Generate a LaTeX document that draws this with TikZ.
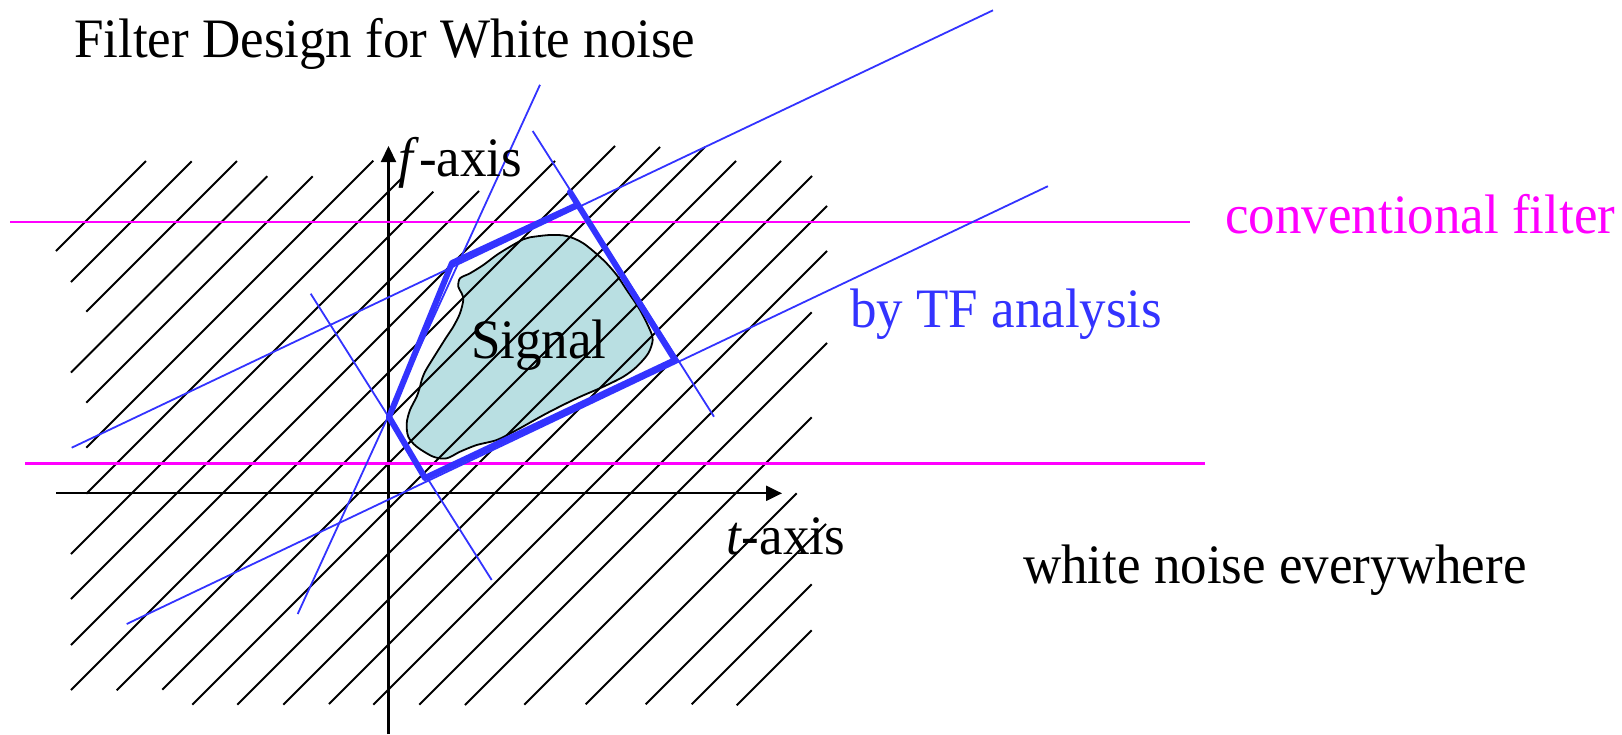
\documentclass[tikz,border=0pt]{standalone}
\usepackage{fontspec}
\usepackage{graphicx}
\setmainfont{Liberation Serif}
\usetikzlibrary{arrows.meta}
\definecolor{tfblue}{RGB}{51,51,255}
\definecolor{conmag}{RGB}{255,0,255}
\definecolor{sigfill}{RGB}{185,223,226}
\newcommand{\talltext}[1]{\scalebox{1}[1.05]{#1}}
\begin{document}
\begin{tikzpicture}[x=1pt,y=-1pt,
  lbl/.style={anchor=base west,inner sep=0pt,font=\fontsize{53}{60}\selectfont},
  hatchline/.style={line width=1.8pt,black},
  axisline/.style={line width=2.2pt,black,-{Triangle[length=16pt,width=15pt]}},
  thinblue/.style={line width=1.8pt,tfblue},
  thickblue/.style={line width=6pt,tfblue,line join=round,line cap=round},
  convline/.style={conmag},
  sigblob/.style={fill=sigfill,draw=black,line width=1.8pt}]
\useasboundingbox (0,0) rectangle (1622,734);

% signal region
\draw[sigblob] plot[smooth cycle,tension=0.5] coordinates {
 (530,237.3) (550,235) (566.7,236) (583.3,243.3) (603.3,260) (616.7,275)
 (626.7,290) (640,310) (650,330) (652.7,340) (648.3,353.3) (636.7,366.7)
 (623.3,376.7) (603.3,386.7) (576.7,398.3) (546.7,413.3) (516.7,430)
 (496.7,440) (476.7,445) (460,451.7) (446.7,458.3) (433.3,456.7)
 (416.7,446.7) (408.3,436.7) (406.7,423.3) (410,410) (416.7,396.7)
 (420,386.7) (421.7,380) (425,371.7) (430,363.3) (438.3,350) (446.7,336.7)
 (453.3,326.7) (460,313.3) (463.3,300) (461.7,293.3) (458.3,286.7)
 (460,278.3) (470,273.3) (483.3,265) (496.7,255) (510,246.7) (523.3,239.3)};

% white-noise hatching (45 degree lines x+y=c)
\foreach \c/\a/\b in {307/56/146, 353/71/191.7, 398/86.3/237, 443.5/71/267.3,
  489/86.3/312.7, 534/86.3/373.3, 580/86.3/402, 625/71/433.3, 670/71/479,
  716/71/555, 761/71/615, 807/116.7/660, 852/162.3/705, 897/192.3/736,
  942/237.3/781, 988/283.3/812, 1033/329/827, 1078/373.3/827,
  1124/419.3/811.7, 1170/465/827, 1229/524.3/811.7, 1290/585.7/796.7,
  1350/645.7/826, 1396/691.7/811.7, 1442/736.7/811.7}
  \draw[hatchline] ({\a},{\c-\a}) -- ({\b},{\c-\b});

\node[lbl] (signal) at (471,358.3) {\talltext{Signal}};

% axes
\coordinate (forigin) at (388.5,734);
\coordinate (ftip) at (388.5,146);
\coordinate (torigin) at (56,493.3);
\coordinate (ttip) at (782,493.3);
\draw[axisline] (forigin) -- (ftip);
\draw[axisline] (torigin) -- (ttip);

% conventional filter band
\coordinate (cu1) at (10,221.7);  \coordinate (cu2) at (1189.6,221.7);
\coordinate (cl1) at (25,463.3);  \coordinate (cl2) at (1205,463.3);
\draw[convline,line width=2.2pt] (cu1) -- (cu2);
\draw[convline,line width=2.8pt] (cl1) -- (cl2);

% TF analysis: supporting lines
\coordinate (a1) at (540,84.8);    \coordinate (a2) at (297.7,614);
\coordinate (b1) at (532.7,131);   \coordinate (b2) at (714,416.7);
\coordinate (c1) at (993,10.3);    \coordinate (c2) at (71.7,447.7);
\coordinate (d1) at (1047.9,186.2);\coordinate (d2) at (126.7,624);
\coordinate (e1) at (310.7,293.7); \coordinate (e2) at (491.7,580);
\draw[thinblue] (a1) -- (a2);
\draw[thinblue] (b1) -- (b2);
\draw[thinblue] (c1) -- (c2);
\draw[thinblue] (d1) -- (d2);
\draw[thinblue] (e1) -- (e2);

% TF analysis: polygon
\coordinate (pL) at (389,417);
\coordinate (pUL) at (452,263);
\coordinate (pT) at (577,205);
\coordinate (pTx) at (570,192);
\coordinate (pR) at (675,360);
\coordinate (pB) at (425,478);
\draw[thickblue] (pL) -- (pUL) -- (pT);
\draw[thickblue] (pTx) -- (pR) -- (pB) -- (pL);

% labels
\node[lbl] (title) at (74,57) {\talltext{Filter Design for White noise}};
\node[lbl] (flabel) at (398,176) {\talltext{\textit{f}-axis}};
\node[lbl] (tlabel) at (726,554) {\talltext{\textit{t}-axis}};
\node[lbl,text=conmag] (conv) at (1225,233) {\talltext{conventional filter}};
\node[lbl,text=tfblue] (tf) at (850,327) {\talltext{by TF analysis}};
\node[lbl] (white) at (1023,583) {\talltext{white noise everywhere}};
\end{tikzpicture}
\end{document}
